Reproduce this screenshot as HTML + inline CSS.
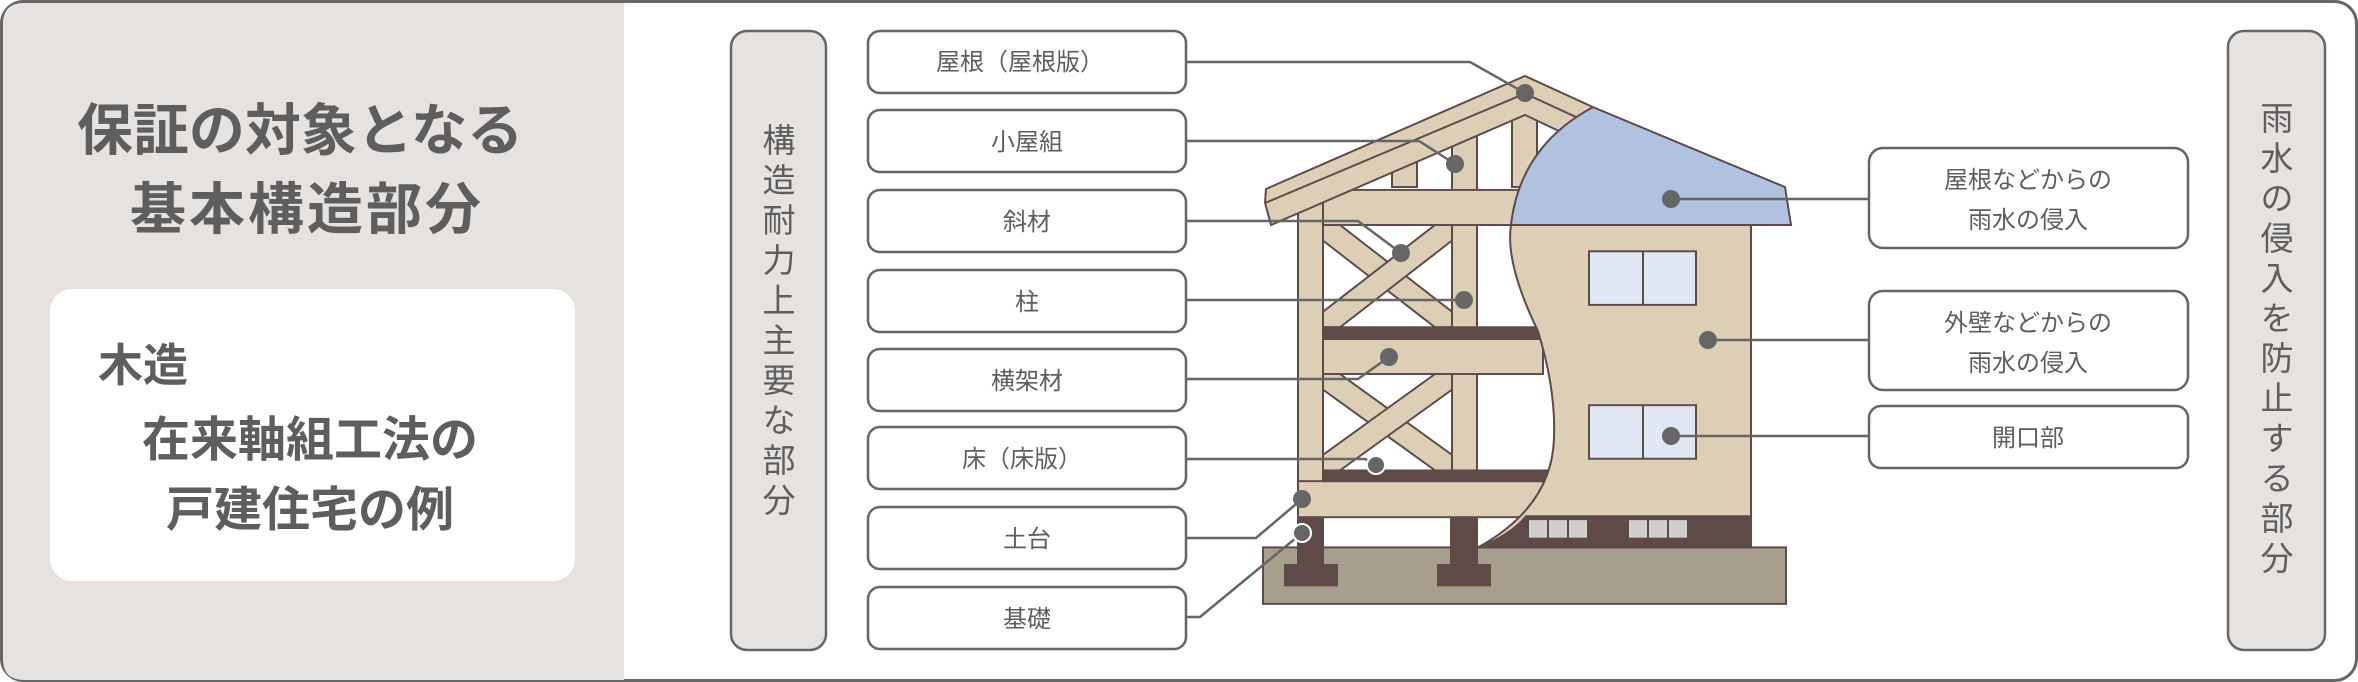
<!DOCTYPE html>
<html><head><meta charset="utf-8"><style>
html,body{margin:0;padding:0;background:#fff;}
svg{display:block;}
text{font-family:"Liberation Sans","Noto Sans CJK JP",sans-serif;fill:#5e5e5e;}
</style></head><body>
<svg width="2358" height="682" viewBox="0 0 2358 682" xmlns="http://www.w3.org/2000/svg">
<rect x="1.5" y="1.5" width="2355" height="679" rx="22" fill="#fff" stroke="#666" stroke-width="3"/>
<path d="M24 3 H624 V680 H24 Q3 680 3 659 V24 Q3 3 24 3Z" fill="#e6e2e0"/>
<rect x="50" y="289" width="525" height="292" rx="22" fill="#fff"/>
<g font-weight="bold" text-anchor="middle">
<text x="300" y="150" font-size="56">保証の対象となる</text>
<text x="307" y="229" font-size="56" letter-spacing="3">基本構造部分</text>
<text x="98" y="381" font-size="45" text-anchor="start">木造</text>
<text x="310" y="456" font-size="48">在来軸組工法の</text>
<text x="310" y="526" font-size="48">戸建住宅の例</text>
</g>
<rect x="731" y="31" width="95" height="619" rx="16" fill="#e6e2e0" stroke="#666" stroke-width="2.5"/>
<g font-size="33" text-anchor="middle">
<text x="779" y="152">構</text><text x="779" y="192">造</text><text x="779" y="232">耐</text><text x="779" y="272">力</text><text x="779" y="312">上</text><text x="779" y="352">主</text><text x="779" y="392">要</text><text x="779" y="432">な</text><text x="779" y="472">部</text><text x="779" y="512">分</text>
</g>
<rect x="2228" y="31" width="97" height="619" rx="16" fill="#e6e2e0" stroke="#666" stroke-width="2.5"/>
<g font-size="33" text-anchor="middle">
<text x="2277" y="130">雨</text><text x="2277" y="170">水</text><text x="2277" y="210">の</text><text x="2277" y="250">侵</text><text x="2277" y="290">入</text><text x="2277" y="330">を</text><text x="2277" y="370">防</text><text x="2277" y="410">止</text><text x="2277" y="450">す</text><text x="2277" y="490">る</text><text x="2277" y="530">部</text><text x="2277" y="570">分</text>
</g>
<g fill="#fff" stroke="#666" stroke-width="2.5">
<rect x="868" y="31" width="318" height="62" rx="12"/>
<rect x="868" y="110" width="318" height="62" rx="12"/>
<rect x="868" y="190" width="318" height="62" rx="12"/>
<rect x="868" y="270" width="318" height="62" rx="12"/>
<rect x="868" y="349" width="318" height="62" rx="12"/>
<rect x="868" y="427" width="318" height="62" rx="12"/>
<rect x="868" y="507" width="318" height="62" rx="12"/>
<rect x="868" y="587" width="318" height="62" rx="12"/>
<rect x="1869" y="148" width="319" height="100" rx="14"/>
<rect x="1869" y="291" width="319" height="99" rx="14"/>
<rect x="1869" y="406" width="319" height="62" rx="12"/>
</g>
<g font-size="24" text-anchor="middle">
<text x="1020" y="70">屋根（屋根版）</text>
<text x="1027" y="150">小屋組</text>
<text x="1027" y="230">斜材</text>
<text x="1027" y="310">柱</text>
<text x="1027" y="389">横架材</text>
<text x="1022" y="467">床（床版）</text>
<text x="1027" y="547">土台</text>
<text x="1027" y="627">基礎</text>
<text x="2028" y="188">屋根などからの</text>
<text x="2028" y="228">雨水の侵入</text>
<text x="2028" y="331">外壁などからの</text>
<text x="2028" y="371">雨水の侵入</text>
<text x="2028" y="446">開口部</text>
</g>
<g stroke="#5e4a48" stroke-width="2" transform="matrix(1,0,0,0.974,0,0)">
<rect x="1263" y="562" width="523" height="58" fill="#a89e8e"/>
<rect x="1285" y="580" width="52" height="21" fill="#5f4a48"/>
<rect x="1298" y="531" width="25" height="50" fill="#5f4a48"/>
<rect x="1438" y="580" width="52" height="21" fill="#5f4a48"/>
<rect x="1451" y="531" width="26" height="50" fill="#5f4a48"/>
<g fill="#dccfb6">
<rect x="1392" y="140" width="25" height="52"/>
<rect x="1512" y="110" width="25" height="82"/>
<rect x="1452" y="125" width="25" height="406"/>
<rect x="1298" y="205" width="25" height="290"/>
<polygon points="1323,231 1340,231 1452,320 1452,336 1435,336 1323,247"/>
<polygon points="1452,231 1435,231 1323,320 1323,336 1340,336 1452,247"/>
<polygon points="1323,384 1340,384 1452,467 1452,483 1435,483 1323,400"/>
<polygon points="1452,384 1435,384 1323,467 1323,483 1340,483 1452,400"/>
<rect x="1323" y="195" width="225" height="36"/>
<rect x="1323" y="348" width="220" height="36"/>
<rect x="1298" y="494" width="246" height="37"/>
<polygon points="1266,194 1525,78 1593,110 1562,136 1525,118 1271,231 1265,208"/>
</g>
<line x1="1266" y1="208" x2="1525" y2="96"/>
<line x1="1525" y1="96" x2="1580" y2="122"/>
<rect x="1323" y="336" width="220" height="12" fill="#5f4a48"/>
<rect x="1323" y="483" width="225" height="11" fill="#5f4a48"/>
<path d="M1593,110 L1785,192 L1791,231 L1511,231 Q1520,150 1593,110Z" fill="#b0c2e0"/>
<path d="M1511,231 L1751,231 L1751,562 L1478,562 Q1552,520 1554,450 Q1556,400 1538,340 Q1505,270 1511,231Z" fill="#dccfb6"/>
<path d="M1751,530 L1751,562 L1478,562 Q1510,550 1526,530Z" fill="#5f4a48"/>
<g fill="#e0e8f6">
<rect x="1589" y="258" width="107" height="55"/><line x1="1643" y1="258" x2="1643" y2="313"/>
<rect x="1589" y="416" width="107" height="55"/><line x1="1643" y1="416" x2="1643" y2="471"/>
</g>
<g fill="#cfcfcf" stroke="none">
<rect x="1529" y="534" width="18" height="18"/><rect x="1549" y="534" width="18" height="18"/><rect x="1569" y="534" width="18" height="18"/>
<rect x="1629" y="534" width="18" height="18"/><rect x="1649" y="534" width="18" height="18"/><rect x="1669" y="534" width="18" height="18"/>
</g>
</g>
<g stroke="#666" stroke-width="2.5" fill="none">
<polyline points="1186,62 1470,62 1525,93"/>
<polyline points="1186,141 1419,141 1455,164"/>
<polyline points="1186,221 1358,221 1401,253"/>
<polyline points="1186,300 1464,300"/>
<polyline points="1186,379 1358,379 1389,357"/>
<polyline points="1186,459 1365,459 1376,465"/>
<polyline points="1186,538 1256,538 1302,499"/>
<polyline points="1186,617 1200,617 1302,533"/>
<line x1="1671" y1="199" x2="1869" y2="199"/>
<line x1="1708" y1="340" x2="1869" y2="340"/>
<line x1="1671" y1="436" x2="1869" y2="436"/>
</g>
<g fill="#666">
<circle cx="1525" cy="93" r="9"/><circle cx="1455" cy="164" r="9"/><circle cx="1401" cy="253" r="9"/><circle cx="1464" cy="300" r="9"/><circle cx="1389" cy="357" r="9"/>
<circle cx="1376" cy="465" r="9" stroke="#fff" stroke-width="2"/><circle cx="1302" cy="499" r="9"/><circle cx="1302" cy="533" r="9" stroke="#fff" stroke-width="2"/>
<circle cx="1671" cy="199" r="9"/><circle cx="1708" cy="340" r="9"/><circle cx="1671" cy="436" r="9"/>
</g>
</svg>
</body></html>
